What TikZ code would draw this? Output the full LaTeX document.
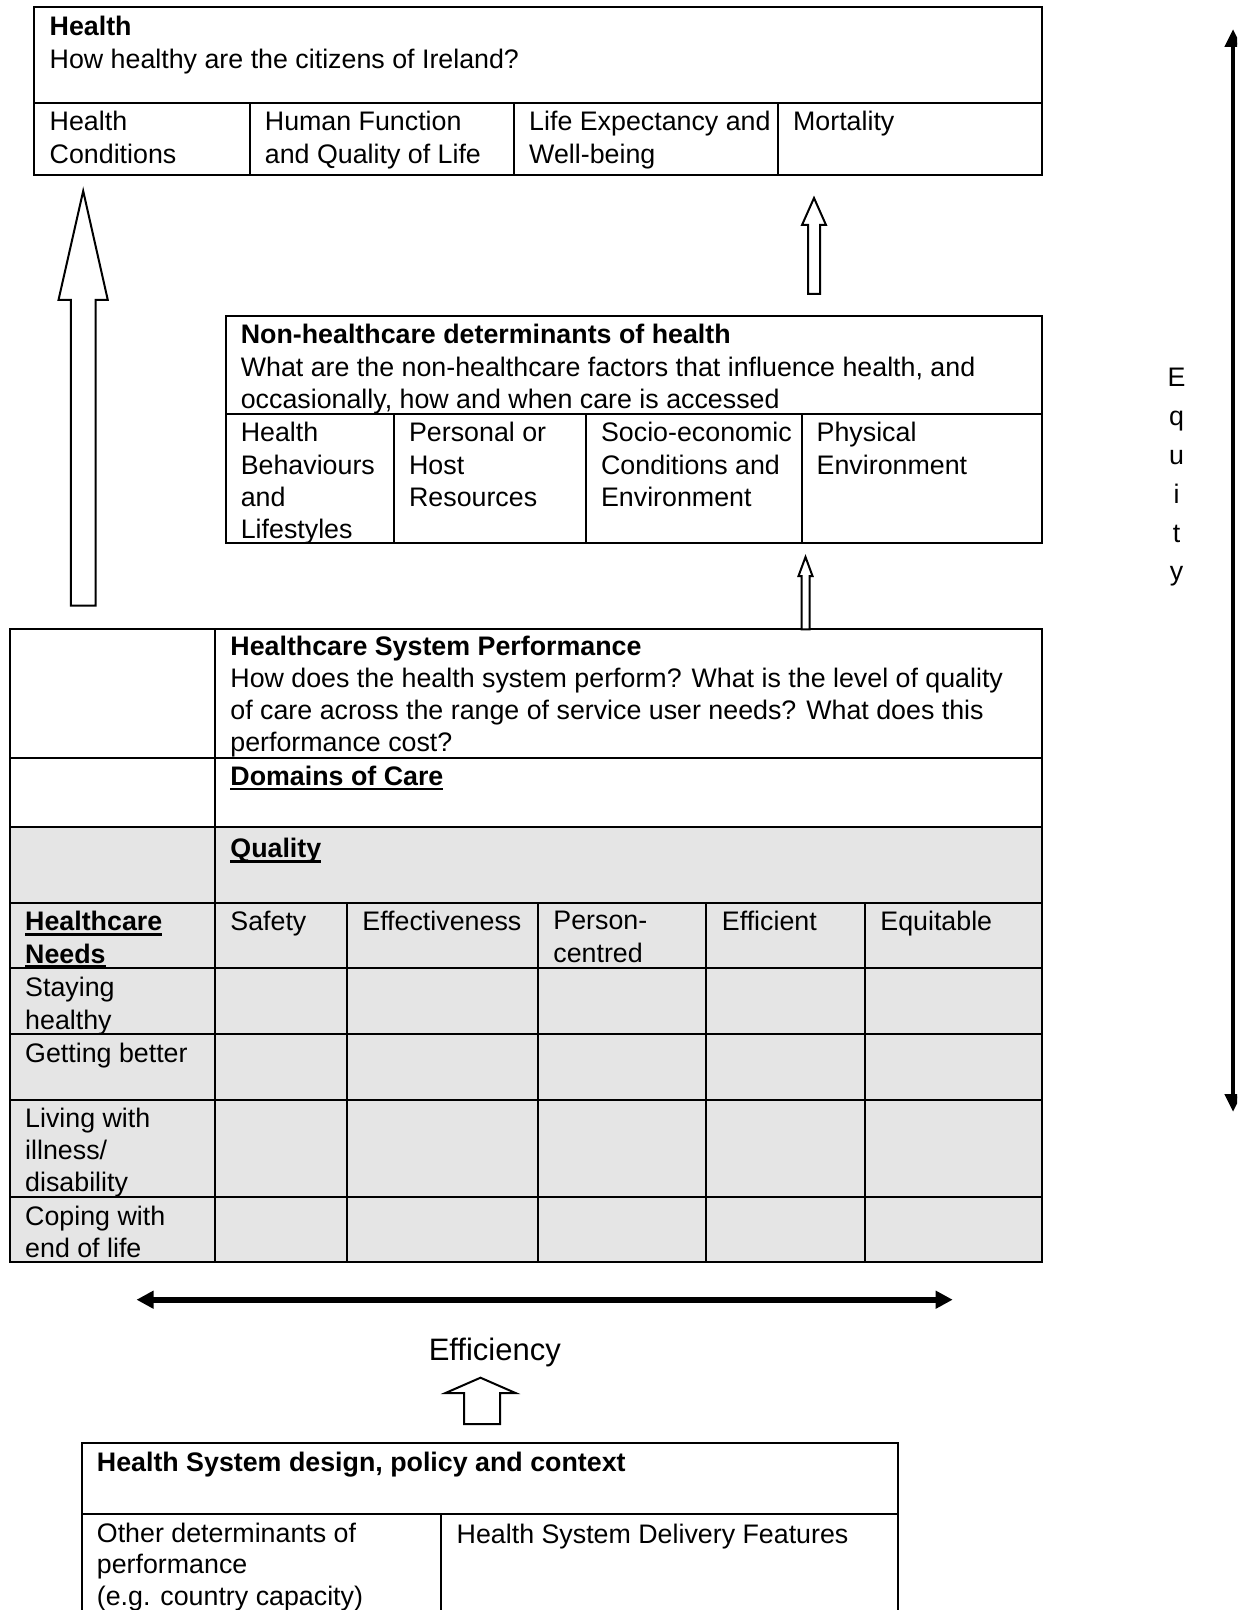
\documentclass[tikz,border=0pt]{standalone}
\usepackage{fontspec}
\setmainfont{Liberation Sans}
\usetikzlibrary{arrows.meta}
\newcommand\st{\rule{0pt}{10.5pt}}
\newcommand\myul[1]{\setbox0\hbox{#1}\rlap{\rule[-2.4pt]{\wd0}{1.3pt}}\box0}
\begin{document}
\begin{tikzpicture}[x=0.5pt,y=-0.5pt,line join=miter,
  frame/.style={line width=1pt},
  txt/.style={anchor=north west,inner sep=0pt,align=left,font=\fontsize{13.4}{16.1}\selectfont,execute at begin node=\st},
  blockarrow/.style={line width=1pt,fill=white},
  eqtip/.style={line width=2.4pt,{Triangle[length=9pt,width=8pt]}-{Triangle[length=9pt,width=8pt]}},
  eftip/.style={line width=3pt,{Triangle[length=8.5pt,width=8.5pt]}-{Triangle[length=8.5pt,width=8.5pt]}}]
\useasboundingbox (0,0) rectangle (1237,1610);
\clip (0,0) rectangle (1237,1610);
\fill[white] (0,0) rectangle (1237,1610);

% ---- Health box
\draw[frame] (33.9,7.2) rectangle (1042,175.5);
\draw[frame] (33.9,102.7) -- (1042,102.7);
\foreach \x in {249.5,514.3,778.2} \draw[frame] (\x,102.7) -- (\x,175.5);
\node[txt] (t1) at (49.3,16) {\textbf{Health}\\How healthy are the citizens of Ireland?};
\node[txt] (c11) at (49.3,111) {Health\\Conditions};
\node[txt] (c12) at (264.5,111) {Human Function\\and Quality of Life};
\node[txt] (c13) at (528.8,111) {Life Expectancy and\\Well-being};
\node[txt] (c14) at (792.7,109) {Mortality};

% ---- Non-healthcare box
\draw[frame] (225.9,316.2) rectangle (1042,543.1);
\draw[frame] (225.9,413.7) -- (1042,413.7);
\foreach \x in {394.2,586.2,801.8} \draw[frame] (\x,413.7) -- (\x,543.1);
\node[txt] (n0) at (240.4,324) {\textbf{Non-healthcare determinants of health}\\What are the non-healthcare factors that influence health, and\\occasionally, how and when care is accessed};
\node[txt] (n1) at (240.4,422) {Health\\Behaviours\\and\\Lifestyles};
\node[txt] (n2) at (408.7,422) {Personal or\\Host\\Resources};
\node[txt] (n3) at (600.7,422) {Socio-economic\\Conditions and\\Environment};
\node[txt] (n4) at (816.3,422) {Physical\\Environment};

% ---- Healthcare System Performance table
\fill[gray!20] (10.3,827.4) rectangle (1042,1261.7);
\draw[frame] (10.3,629.3) rectangle (1042,1261.7);
\draw[frame] (214.6,629.3) -- (214.6,1261.7);
\foreach \y in {757.6,827.4,903.4,968.1,1033.8,1099.5,1197} \draw[frame] (10.3,\y) -- (1042,\y);
\foreach \x in {347,537.9,706.3,865.4} \draw[frame] (\x,903.4) -- (\x,1261.7);
\node[txt] (h0) at (230,635.5) {\textbf{Healthcare System Performance}\\How does the health system perform? What is the level of quality\\of care across the range of service user needs? What does this\\performance cost?};
\node[txt] (h1) at (230,764) {\textbf{\myul{Domains of Care}}};
\node[txt] (h2) at (230,836.5) {\textbf{\myul{Quality}}};
\node[txt] (r0) at (24.8,911) {\textbf{\myul{Healthcare}}\\\textbf{\myul{Needs}}};
\node[txt] (q1) at (230,909.4) {Safety};
\node[txt] (q2) at (362,909.4) {Effectiveness};
\node[txt] (q3) at (553,911) {Person-\\centred};
\node[txt] (q4) at (721.5,909.4) {Efficient};
\node[txt] (q5) at (880,909.4) {Equitable};
\node[txt] (r1) at (24.8,977) {Staying\\healthy};
\node[txt] (r2) at (24.8,1040.8) {Getting better};
\node[txt] (r3) at (24.8,1107.5) {Living with\\illness/\\disability};
\node[txt] (r4) at (24.8,1205.5) {Coping with\\end of life};

% ---- Bottom box
\draw[frame] (82.1,1625) -- (82.1,1443.4) -- (898.3,1443.4) -- (898.3,1625);
\draw[frame] (82.1,1514.3) -- (898.3,1514.3);
\draw[frame] (441.4,1514.3) -- (441.4,1625);
\node[txt] (b0) at (96.5,1450.4) {\textbf{Health System design, policy and context}};
\node[txt,font=\fontsize{13.4}{15.7}\selectfont] (b1) at (96.5,1522.5) {Other determinants of\\performance\\(e.g. country capacity)};
\node[txt] (b2) at (456.3,1522.2) {Health System Delivery Features};

% ---- Block arrows
\draw[blockarrow] (70.8,605.7) -- (70.8,300) -- (58.5,300) -- (83.2,191) -- (107.8,300) -- (95.5,300) -- (95.5,605.7) -- cycle;
\draw[blockarrow] (808,294) -- (808,225) -- (802,225) -- (814,198) -- (826,225) -- (820,225) -- (820,294) -- cycle;
\draw[blockarrow] (801.5,629.3) -- (801.5,576) -- (798.5,576) -- (805.5,557) -- (812.5,576) -- (809.5,576) -- (809.5,629.3) -- cycle;
\draw[blockarrow] (464,1424) -- (464,1393) -- (445.5,1393) -- (480.5,1377.7) -- (515.5,1393) -- (500,1393) -- (500,1424) -- cycle;

% ---- Efficiency
\coordinate (efL) at (136.5,1299.7);
\coordinate (efR) at (952.7,1299.7);
\draw[eftip] (efL) -- (efR);
\node[anchor=base,inner sep=0pt,font=\fontsize{15.5}{18}\selectfont] (eff) at (494.8,1360) {Efficiency};

% ---- Equity
\coordinate (eqT) at (1233,29);
\coordinate (eqB) at (1233,1112);
\draw[eqtip] (eqT) -- (eqB);
\node[anchor=north,inner sep=0pt,align=center,font=\fontsize{13.4}{19.4}\selectfont,execute at begin node=\st] (eq) at (1176.5,368) {E\\q\\u\\i\\t\\y};
\end{tikzpicture}
\end{document}
